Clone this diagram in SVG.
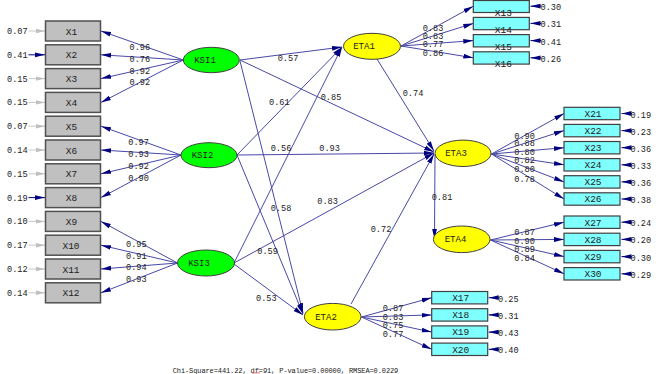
<svg xmlns="http://www.w3.org/2000/svg" width="662" height="374" viewBox="0 0 662 374">
<defs>
<style>
.t{font-family:"Liberation Mono","DejaVu Sans Mono",monospace;fill:#222}
.n{font-size:8.6px}
.b{font-size:9.5px;text-anchor:middle}
.e{font-size:9px;text-anchor:middle}
.gb{fill:#c0c0c0;stroke:#505050;stroke-width:1.5}
.cb{fill:#80ffff;stroke:#404040;stroke-width:1.2}
.gr{fill:#00ff00;stroke:#404040;stroke-width:1}
.ye{fill:#ffff00;stroke:#404040;stroke-width:1}
.l{stroke:#4848a8;stroke-width:1;fill:none;marker-end:url(#a)}
.lg{stroke:#c8c8c8;stroke-width:1;fill:none;marker-end:url(#g)}
.ln{stroke:#000080;stroke-width:1;fill:none;marker-end:url(#a)}
</style>
<marker id="a" markerUnits="userSpaceOnUse" markerWidth="10" markerHeight="6" refX="10" refY="3" orient="auto"><path d="M0,0.6 L10,3 L0,5.4 z" fill="#000080"/></marker>
<marker id="g" markerUnits="userSpaceOnUse" markerWidth="9" markerHeight="6" refX="9" refY="3" orient="auto"><path d="M0,0.8 L9,3 L0,5.2 z" fill="#c0c0c0"/></marker>
</defs>
<rect width="662" height="374" fill="#ffffff"/>

<g id="connectors">
<!-- KSI1 loadings -->
<line class="l" x1="183.3" y1="60" x2="101" y2="31"/>
<line class="l" x1="183.3" y1="60" x2="101" y2="54.8"/>
<line class="l" x1="183.3" y1="60" x2="101" y2="78.6"/>
<line class="l" x1="183.3" y1="60" x2="101" y2="102.4"/>
<!-- KSI2 loadings -->
<line class="l" x1="181" y1="155" x2="101" y2="126.2"/>
<line class="l" x1="181" y1="155" x2="101" y2="150"/>
<line class="l" x1="181" y1="155" x2="101" y2="173.8"/>
<line class="l" x1="181" y1="155" x2="101" y2="197.6"/>
<!-- KSI3 loadings -->
<line class="l" x1="177.5" y1="263" x2="101" y2="221.4"/>
<line class="l" x1="177.5" y1="263" x2="101" y2="245.2"/>
<line class="l" x1="177.5" y1="263" x2="101" y2="269"/>
<line class="l" x1="177.5" y1="263" x2="101" y2="292.8"/>
<!-- left error arrows -->
<line class="lg" x1="28.5" y1="31" x2="45" y2="31"/>
<line class="ln" x1="28.5" y1="54.8" x2="45" y2="54.8"/>
<line class="lg" x1="28.5" y1="78.6" x2="45" y2="78.6"/>
<line class="lg" x1="28.5" y1="102.4" x2="45" y2="102.4"/>
<line class="lg" x1="28.5" y1="126.2" x2="45" y2="126.2"/>
<line class="lg" x1="28.5" y1="150" x2="45" y2="150"/>
<line class="lg" x1="28.5" y1="173.8" x2="45" y2="173.8"/>
<line class="ln" x1="28.5" y1="197.6" x2="45" y2="197.6"/>
<line class="lg" x1="28.5" y1="221.4" x2="45" y2="221.4"/>
<line class="lg" x1="28.5" y1="245.2" x2="45" y2="245.2"/>
<line class="lg" x1="28.5" y1="269" x2="45" y2="269"/>
<line class="lg" x1="28.5" y1="292.8" x2="45" y2="292.8"/>
<!-- structural paths -->
<line class="l" x1="240" y1="60" x2="342" y2="47"/>
<line class="l" x1="240" y1="60" x2="434" y2="152"/>
<line class="l" x1="240" y1="61" x2="303" y2="313"/>
<line class="l" x1="237" y1="155" x2="342" y2="47"/>
<line class="l" x1="237" y1="155" x2="434" y2="153"/>
<line class="l" x1="237" y1="155" x2="303" y2="314"/>
<line class="l" x1="234" y1="263" x2="342" y2="47"/>
<line class="l" x1="234" y1="263" x2="434" y2="153"/>
<line class="l" x1="234" y1="264" x2="303" y2="315"/>
<line class="l" x1="377" y1="59" x2="434" y2="151"/>
<line class="l" x1="351" y1="304" x2="434" y2="154"/>
<line class="l" x1="435" y1="154" x2="434.5" y2="239"/>
<!-- ETA1 loadings -->
<line class="l" x1="401" y1="46" x2="473.3" y2="6.2"/>
<line class="l" x1="401" y1="46" x2="473.3" y2="23.4"/>
<line class="l" x1="401" y1="46" x2="473.3" y2="40.6"/>
<line class="l" x1="401" y1="46" x2="473.3" y2="57.8"/>
<!-- ETA3 loadings -->
<line class="l" x1="491.5" y1="154" x2="564" y2="113.5"/>
<line class="l" x1="491.5" y1="154" x2="564" y2="130.6"/>
<line class="l" x1="491.5" y1="154" x2="564" y2="147.7"/>
<line class="l" x1="491.5" y1="154" x2="564" y2="164.8"/>
<line class="l" x1="491.5" y1="154" x2="564" y2="181.9"/>
<line class="l" x1="491.5" y1="154" x2="564" y2="199"/>
<!-- ETA4 loadings -->
<line class="l" x1="490.5" y1="240" x2="564" y2="222.2"/>
<line class="l" x1="490.5" y1="240" x2="564" y2="239.4"/>
<line class="l" x1="490.5" y1="240" x2="564" y2="256.6"/>
<line class="l" x1="490.5" y1="240" x2="564" y2="273.8"/>
<!-- ETA2 loadings -->
<line class="l" x1="361.5" y1="317" x2="431.7" y2="297.7"/>
<line class="l" x1="361.5" y1="317" x2="431.7" y2="314.9"/>
<line class="l" x1="361.5" y1="317" x2="431.7" y2="332.1"/>
<line class="l" x1="361.5" y1="317" x2="431.7" y2="349.3"/>
<!-- right error arrows -->
<line class="ln" x1="541" y1="6.2" x2="530.5" y2="6.2"/>
<line class="ln" x1="541" y1="23.4" x2="530.5" y2="23.4"/>
<line class="ln" x1="541" y1="40.6" x2="530.5" y2="40.6"/>
<line class="ln" x1="541" y1="57.8" x2="530.5" y2="57.8"/>
<line class="ln" x1="632" y1="113.5" x2="621.5" y2="113.5"/>
<line class="ln" x1="632" y1="130.6" x2="621.5" y2="130.6"/>
<line class="ln" x1="632" y1="147.7" x2="621.5" y2="147.7"/>
<line class="ln" x1="632" y1="164.8" x2="621.5" y2="164.8"/>
<line class="ln" x1="632" y1="181.9" x2="621.5" y2="181.9"/>
<line class="ln" x1="632" y1="199" x2="621.5" y2="199"/>
<line class="ln" x1="632" y1="222.2" x2="621.5" y2="222.2"/>
<line class="ln" x1="632" y1="239.4" x2="621.5" y2="239.4"/>
<line class="ln" x1="632" y1="256.6" x2="621.5" y2="256.6"/>
<line class="ln" x1="632" y1="273.8" x2="621.5" y2="273.8"/>
<line class="ln" x1="499" y1="297.7" x2="488.7" y2="297.7"/>
<line class="ln" x1="499" y1="314.9" x2="488.7" y2="314.9"/>
<line class="ln" x1="499" y1="332.1" x2="488.7" y2="332.1"/>
<line class="ln" x1="499" y1="349.3" x2="488.7" y2="349.3"/>
</g>

<g id="labels" class="t n">
<text x="7" y="34">0.07</text><text x="7" y="57.8">0.41</text><text x="7" y="81.6">0.15</text><text x="7" y="105.4">0.15</text>
<text x="7" y="129.2">0.07</text><text x="7" y="153">0.14</text><text x="7" y="176.8">0.15</text><text x="7" y="200.6">0.19</text>
<text x="7" y="224.4">0.10</text><text x="7" y="248.2">0.17</text><text x="7" y="272">0.12</text><text x="7" y="295.8">0.14</text>
<text x="129.5" y="49.7">0.96</text><text x="129.5" y="62.3">0.76</text><text x="129.5" y="73.7">0.92</text><text x="129.5" y="85">0.92</text>
<text x="128.3" y="145.3">0.97</text><text x="128.3" y="157.3">0.93</text><text x="128.3" y="169">0.92</text><text x="128.3" y="181.3">0.90</text>
<text x="126" y="247">0.95</text><text x="126" y="258.7">0.91</text><text x="126" y="270.3">0.94</text><text x="126" y="282.3">0.93</text>
<text x="277.7" y="61.3">0.57</text>
<text x="320.7" y="100.3">0.85</text>
<text x="269" y="104.7">0.61</text>
<text x="402.7" y="95.7">0.74</text>
<text x="270.7" y="151.3">0.56</text>
<text x="319.3" y="151.3">0.93</text>
<text x="270.7" y="210.7">0.58</text>
<text x="317.3" y="204">0.83</text>
<text x="370.7" y="232.3">0.72</text>
<text x="257.3" y="254">0.59</text>
<text x="256" y="300.7">0.53</text>
<text x="431.7" y="199.7">0.81</text>
<text x="422.7" y="31">0.83</text><text x="422.7" y="38.5">0.83</text><text x="422.7" y="47.3">0.77</text><text x="422.7" y="56.3">0.86</text>
<text x="514.3" y="138.7">0.90</text><text x="514.3" y="146.3">0.88</text><text x="514.3" y="154.7">0.80</text><text x="514.3" y="163">0.82</text><text x="514.3" y="172">0.80</text><text x="514.3" y="182">0.78</text>
<text x="514.3" y="235.3">0.87</text><text x="514.3" y="244">0.90</text><text x="514.3" y="252.3">0.89</text><text x="514.3" y="261.3">0.84</text>
<text x="382.7" y="311.3">0.87</text><text x="382.7" y="319.7">0.83</text><text x="382.7" y="328">0.75</text><text x="382.7" y="337.3">0.77</text>
<text x="540.5" y="10.2">0.30</text><text x="540.5" y="27.4">0.31</text><text x="540.5" y="44.6">0.41</text><text x="540.5" y="61.8">0.26</text>
<text x="630.5" y="117.5">0.19</text><text x="630.5" y="134.6">0.23</text><text x="630.5" y="151.7">0.36</text><text x="630.5" y="168.8">0.33</text><text x="630.5" y="185.9">0.36</text><text x="630.5" y="203">0.38</text>
<text x="630.5" y="226.2">0.24</text><text x="630.5" y="243.4">0.20</text><text x="630.5" y="260.6">0.30</text><text x="630.5" y="277.8">0.29</text>
<text x="498" y="301.7">0.25</text><text x="498" y="318.9">0.31</text><text x="498" y="336.1">0.43</text><text x="498" y="353.3">0.40</text>
</g>

<g id="X1"><rect class="gb" x="45.5" y="21" width="55" height="20"/><text class="t b" x="71.5" y="34.5">X1</text></g>
<g id="X2"><rect class="gb" x="45.5" y="44.8" width="55" height="20"/><text class="t b" x="71.5" y="58.3">X2</text></g>
<g id="X3"><rect class="gb" x="45.5" y="68.6" width="55" height="20"/><text class="t b" x="71.5" y="82.1">X3</text></g>
<g id="X4"><rect class="gb" x="45.5" y="92.4" width="55" height="20"/><text class="t b" x="71.5" y="105.9">X4</text></g>
<g id="X5"><rect class="gb" x="45.5" y="116.2" width="55" height="20"/><text class="t b" x="71.5" y="129.7">X5</text></g>
<g id="X6"><rect class="gb" x="45.5" y="140" width="55" height="20"/><text class="t b" x="71.5" y="153.5">X6</text></g>
<g id="X7"><rect class="gb" x="45.5" y="163.8" width="55" height="20"/><text class="t b" x="71.5" y="177.3">X7</text></g>
<g id="X8"><rect class="gb" x="45.5" y="187.6" width="55" height="20"/><text class="t b" x="71.5" y="201.1">X8</text></g>
<g id="X9"><rect class="gb" x="45.5" y="211.4" width="55" height="20"/><text class="t b" x="71.5" y="224.9">X9</text></g>
<g id="X10"><rect class="gb" x="45.5" y="235.2" width="55" height="20"/><text class="t b" x="71" y="248.7">X10</text></g>
<g id="X11"><rect class="gb" x="45.5" y="259" width="55" height="20"/><text class="t b" x="71" y="272.5">X11</text></g>
<g id="X12"><rect class="gb" x="45.5" y="282.8" width="55" height="20"/><text class="t b" x="71" y="296.3">X12</text></g>

<g id="X13"><rect class="cb" x="473.3" y="0.5" width="56" height="12" /><text class="t b" x="503.3" y="16">X13</text></g>
<g id="X14"><rect class="cb" x="473.3" y="17.4" width="56" height="12.3"/><text class="t b" x="503.3" y="33.2">X14</text></g>
<g id="X15"><rect class="cb" x="473.3" y="34.6" width="56" height="12.3"/><text class="t b" x="503.3" y="50.4">X15</text></g>
<g id="X16"><rect class="cb" x="473.3" y="51.8" width="56" height="12.3"/><text class="t b" x="503.3" y="67.4">X16</text></g>

<g id="X21"><rect class="cb" x="564" y="107.3" width="56" height="12.4"/><text class="t b" x="593" y="116.8">X21</text></g>
<g id="X22"><rect class="cb" x="564" y="124.4" width="56" height="12.4"/><text class="t b" x="593" y="133.9">X22</text></g>
<g id="X23"><rect class="cb" x="564" y="141.5" width="56" height="12.4"/><text class="t b" x="593" y="151">X23</text></g>
<g id="X24"><rect class="cb" x="564" y="158.6" width="56" height="12.4"/><text class="t b" x="593" y="168.1">X24</text></g>
<g id="X25"><rect class="cb" x="564" y="175.7" width="56" height="12.4"/><text class="t b" x="593" y="185.2">X25</text></g>
<g id="X26"><rect class="cb" x="564" y="192.8" width="56" height="12.4"/><text class="t b" x="593" y="202.3">X26</text></g>

<g id="X27"><rect class="cb" x="564" y="216" width="56" height="12.4"/><text class="t b" x="593" y="225.5">X27</text></g>
<g id="X28"><rect class="cb" x="564" y="233.2" width="56" height="12.4"/><text class="t b" x="593" y="242.7">X28</text></g>
<g id="X29"><rect class="cb" x="564" y="250.4" width="56" height="12.4"/><text class="t b" x="593" y="259.9">X29</text></g>
<g id="X30"><rect class="cb" x="564" y="267.6" width="56" height="12.4"/><text class="t b" x="593" y="277.1">X30</text></g>

<g id="X17"><rect class="cb" x="431.7" y="291.5" width="56" height="12.4"/><text class="t b" x="460.7" y="301">X17</text></g>
<g id="X18"><rect class="cb" x="431.7" y="308.7" width="56" height="12.4"/><text class="t b" x="460.7" y="318.2">X18</text></g>
<g id="X19"><rect class="cb" x="431.7" y="325.9" width="56" height="12.4"/><text class="t b" x="460.7" y="335.4">X19</text></g>
<g id="X20"><rect class="cb" x="431.7" y="343.1" width="56" height="12.4"/><text class="t b" x="460.7" y="352.6">X20</text></g>

<g id="KSI1"><ellipse class="gr" cx="211.3" cy="60" rx="28" ry="12.7"/><text class="t e" x="205" y="63">KSI1</text></g>
<g id="KSI2"><ellipse class="gr" cx="209" cy="155.2" rx="28" ry="12.5"/><text class="t e" x="202.5" y="158.2">KSI2</text></g>
<g id="KSI3"><ellipse class="gr" cx="206" cy="263" rx="28.5" ry="13"/><text class="t e" x="199" y="266">KSI3</text></g>
<g id="ETA1"><ellipse class="ye" cx="372" cy="46.3" rx="28.5" ry="13"/><text class="t e" x="364" y="49.3">ETA1</text></g>
<g id="ETA2"><ellipse class="ye" cx="332.7" cy="316.7" rx="28.3" ry="13.3"/><text class="t e" x="326" y="319.7">ETA2</text></g>
<g id="ETA3"><ellipse class="ye" cx="463" cy="153.3" rx="28" ry="13.2"/><text class="t e" x="456" y="156.3">ETA3</text></g>
<g id="ETA4"><ellipse class="ye" cx="461.7" cy="239.3" rx="28.3" ry="13.3"/><text class="t e" x="455.5" y="242.3">ETA4</text></g>

<g id="fit">
<text class="t" x="172.7" y="372.5" font-size="7" textLength="225.6">Chi-Square=441.22, df=91, P-value=0.00000, RMSEA=0.0229</text>
<path d="M252,373.3 l1,-0.8 l1,0.8 l1,-0.8 l1,0.8 l1,-0.8 l1,0.8 l1,-0.8 l1,0.8" fill="none" stroke="#e04040" stroke-width="0.7"/>
</g>
</svg>
